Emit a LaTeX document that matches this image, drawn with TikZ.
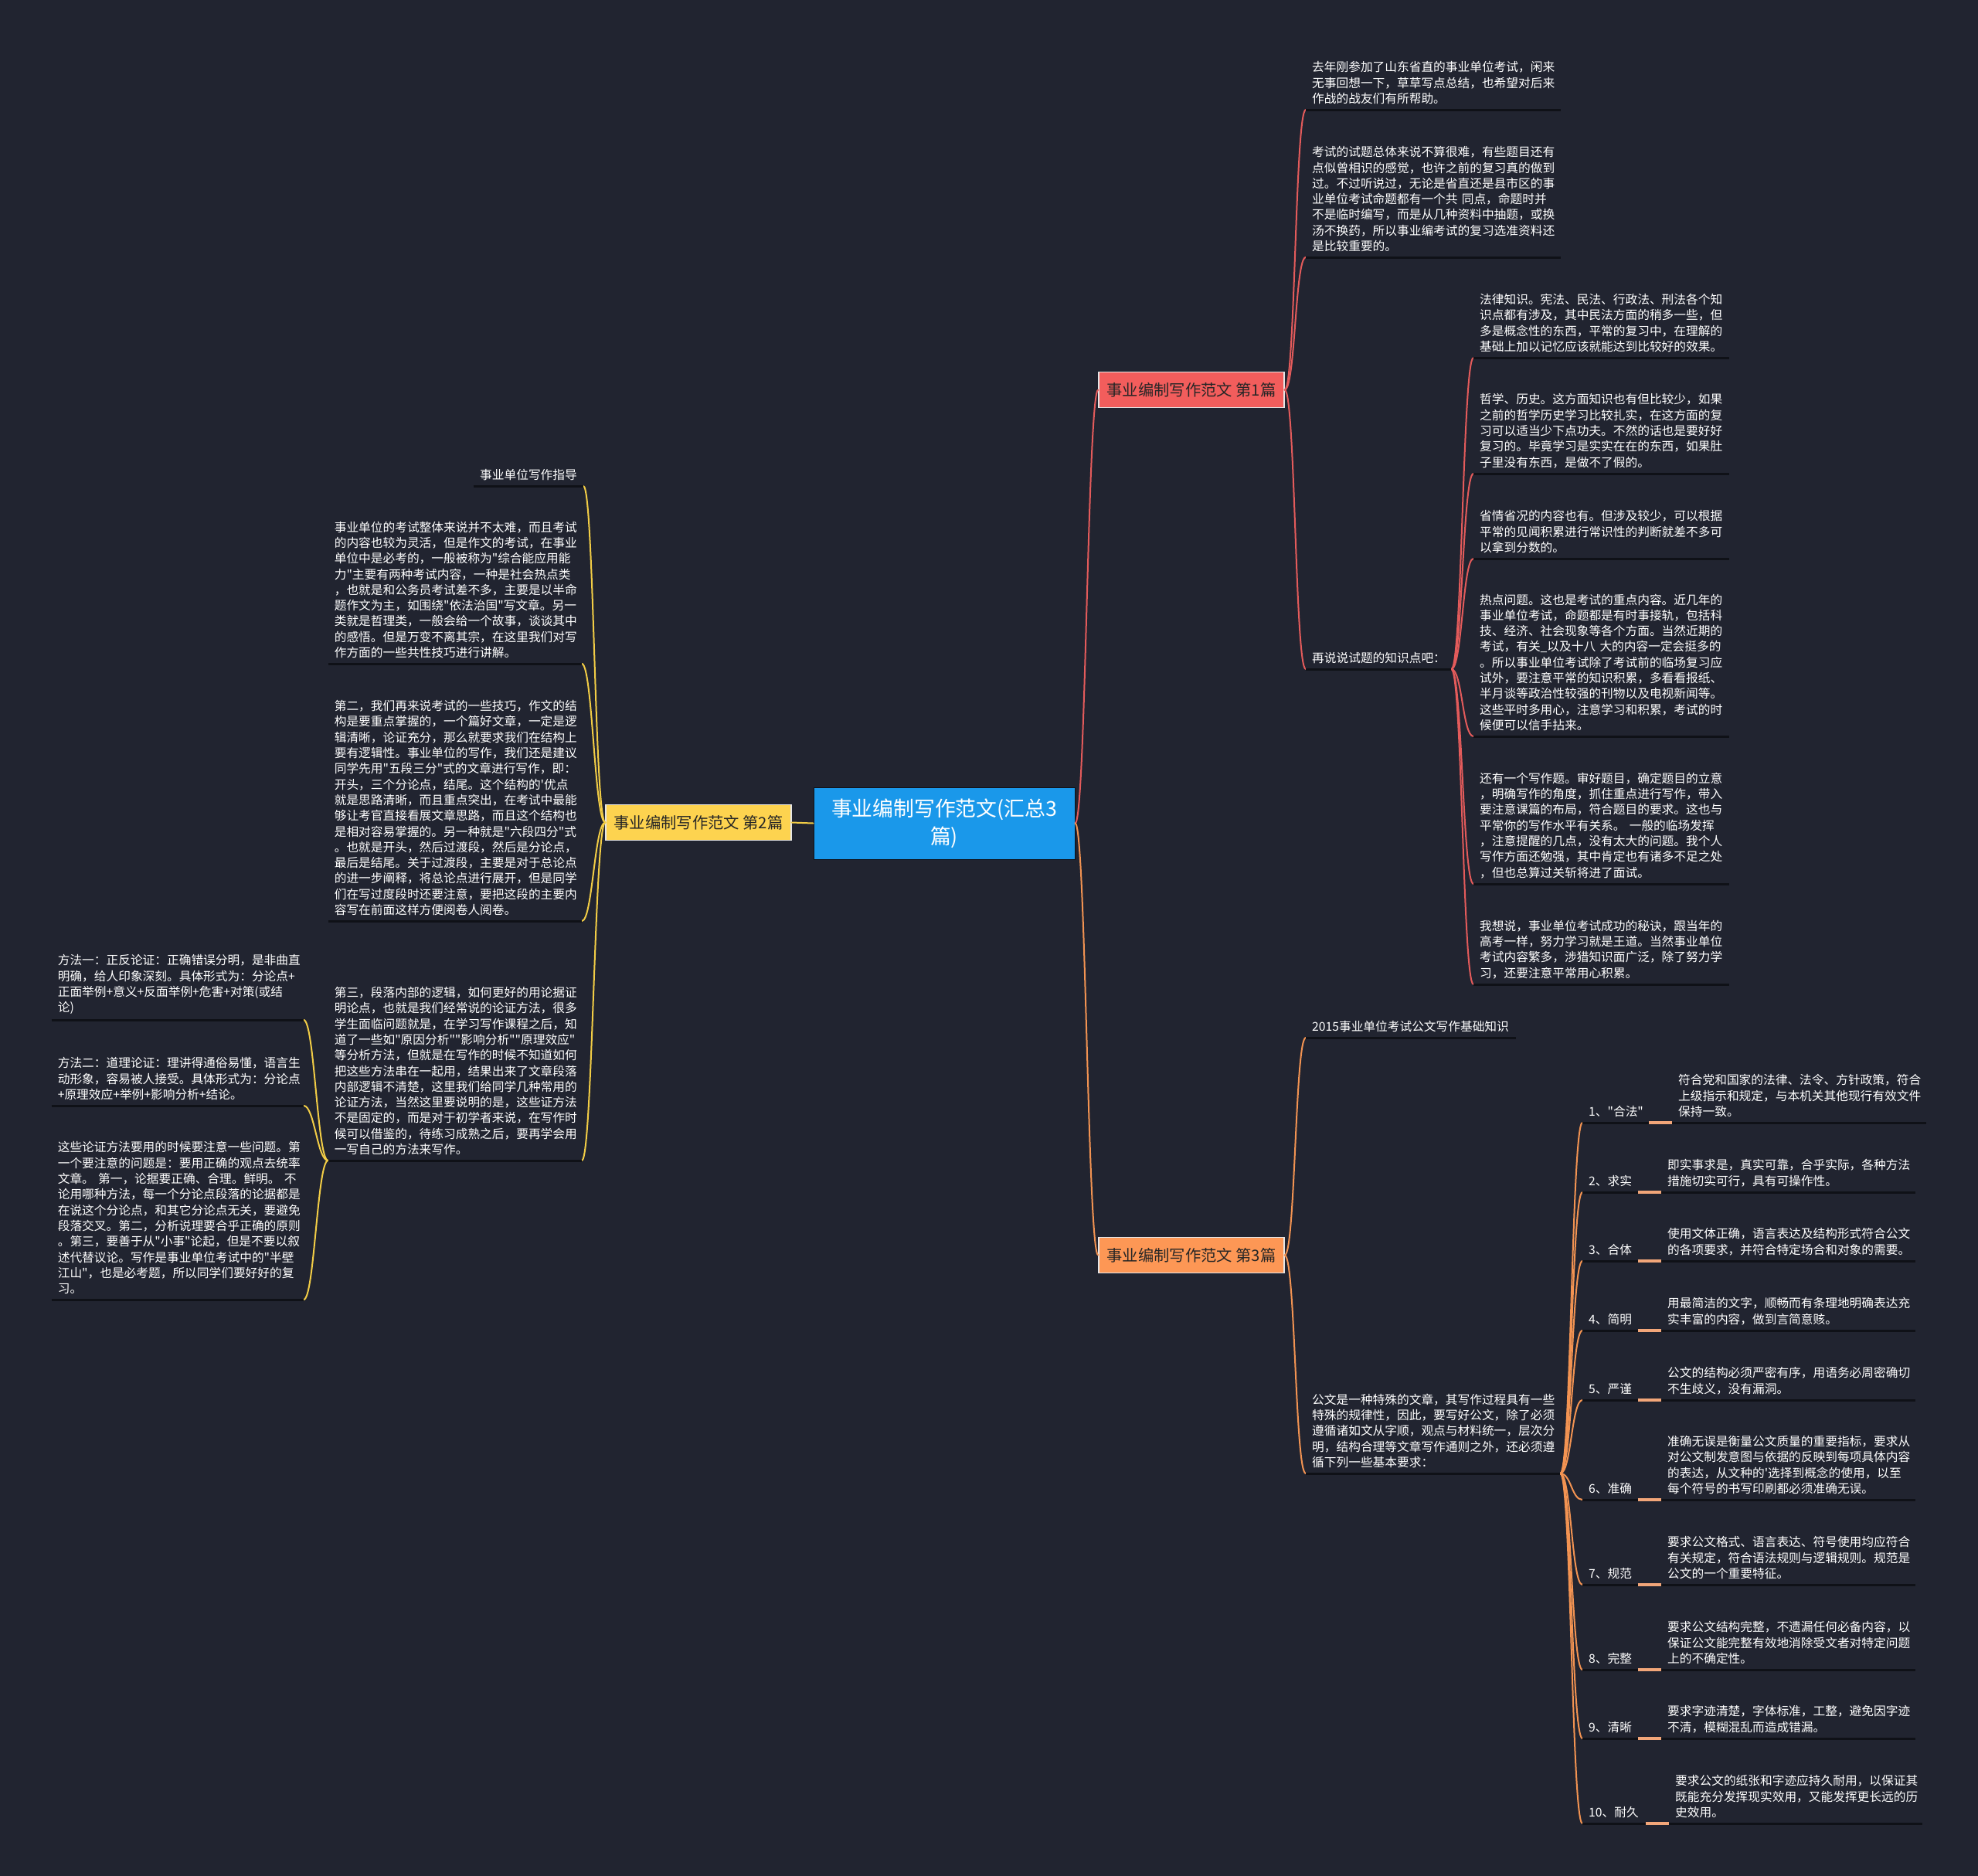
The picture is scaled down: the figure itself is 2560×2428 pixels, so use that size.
\documentclass[tikz,border=0pt]{standalone}
\usepackage{fontspec}
\newfontfamily\cjk{Noto Sans CJK SC}
\usetikzlibrary{calc}
\definecolor{bg}{HTML}{212430}
\definecolor{cblue}{HTML}{1A98EA}
\definecolor{cred}{HTML}{F25D5C}
\definecolor{cyel}{HTML}{FDD34F}
\definecolor{corg}{HTML}{FD9755}
\definecolor{lred}{HTML}{E35B5B}
\definecolor{lyel}{HTML}{F2CD46}
\definecolor{lorg}{HTML}{F29352}
\definecolor{peach}{HTML}{F2A679}
\definecolor{ulcol}{HTML}{0F1117}
\definecolor{darktext}{HTML}{262626}
\tikzset{
  leaf/.style={inner xsep=8pt, inner ysep=7pt, align=left, text=white,
    font=\cjk\fontsize{15.7}{20.3}\selectfont, text width=#1},
  leafsw/.style={leaf=#1, anchor=south west},
  leafse/.style={leaf=#1, anchor=south east},
  topic/.style={minimum width=240pt, minimum height=46pt, inner sep=0pt,
    draw=white!90!black, line width=1.2pt, text=darktext,
    font=\cjk\fontsize{20.3}{24}\selectfont},
  mainbox/.style={minimum width=338pt, minimum height=93pt, inner sep=0pt,
    fill=cblue, draw=ulcol, line width=1pt, text=white, align=center,
    font=\cjk\fontsize{26.8}{36}\selectfont},
  rbranch/.style={to path={.. controls ($(\tikztostart)+(14,0)$) and ($(\tikztotarget)+(-14,0)$) .. (\tikztotarget)}},
  lbranch/.style={to path={.. controls ($(\tikztostart)+(-14,0)$) and ($(\tikztotarget)+(14,0)$) .. (\tikztotarget)}},
  conn/.style={line width=2pt, line cap=round},
  ul/.style={draw=ulcol, line width=3pt},
  seg/.style={draw=peach, line width=3.5pt},
}
\begin{document}
\begin{tikzpicture}[x=1pt,y=-1pt]
\fill[bg] (0,0) rectangle (2560,2428);
\useasboundingbox (0,0) rectangle (2560,2428);

% main topics
\node[mainbox] (main) at (1222,1065.5) {事业编制写作范文(汇总3\\篇)};
\node[topic, fill=cred] (b1) at (1542,504.5) {事业编制写作范文 第1篇};
\node[topic, fill=cyel] (b2) at (904,1064.5) {事业编制写作范文 第2篇};
\node[topic, fill=corg] (b3) at (1542,1624.5) {事业编制写作范文 第3篇};

% ===== branch 1 =====
\node[leafsw=314pt] (r1) at (1690,142) {去年刚参加了山东省直的事业单位考试，闲来\\无事回想一下，草草写点总结，也希望对后来\\作战的战友们有所帮助。};
\node[leafsw=314pt] (r2) at (1690,333) {考试的试题总体来说不算很难，有些题目还有\\点似曾相识的感觉，也许之前的复习真的做到\\过。不过听说过，无论是省直还是县市区的事\\业单位考试命题都有一个共 同点，命题时并\\不是临时编写，而是从几种资料中抽题，或换\\汤不换药，所以事业编考试的复习选准资料还\\是比较重要的。};
\node[leafsw=172pt] (r3) at (1690,866) {再说说试题的知识点吧：};

\node[leafsw=315pt] (k1) at (1907,463) {法律知识。宪法、民法、行政法、刑法各个知\\识点都有涉及，其中民法方面的稍多一些，但\\多是概念性的东西，平常的复习中，在理解的\\基础上加以记忆应该就能达到比较好的效果。};
\node[leafsw=315pt] (k2) at (1907,613) {哲学、历史。这方面知识也有但比较少，如果\\之前的哲学历史学习比较扎实，在这方面的复\\习可以适当少下点功夫。不然的话也是要好好\\复习的。毕竟学习是实实在在的东西，如果肚\\子里没有东西，是做不了假的。};
\node[leafsw=315pt] (k3) at (1907,723) {省情省况的内容也有。但涉及较少，可以根据\\平常的见闻积累进行常识性的判断就差不多可\\以拿到分数的。};
\node[leafsw=315pt] (k4) at (1907,953) {热点问题。这也是考试的重点内容。近几年的\\事业单位考试，命题都是有时事接轨，包括科\\技、经济、社会现象等各个方面。当然近期的\\考试，有关\_以及十八 大的内容一定会挺多的\\。所以事业单位考试除了考试前的临场复习应\\试外，要注意平常的知识积累，多看看报纸、\\半月谈等政治性较强的刊物以及电视新闻等。\\这些平时多用心，注意学习和积累，考试的时\\候便可以信手拈来。};
\node[leafsw=315pt] (k5) at (1907,1144) {还有一个写作题。审好题目，确定题目的立意\\，明确写作的角度，抓住重点进行写作，带入\\要注意课篇的布局，符合题目的要求。这也与\\平常你的写作水平有关系。 一般的临场发挥\\，注意提醒的几点，没有太大的问题。我个人\\写作方面还勉强，其中肯定也有诸多不足之处\\，但也总算过关斩将进了面试。};
\node[leafsw=315pt] (k6) at (1907,1274) {我想说，事业单位考试成功的秘诀，跟当年的\\高考一样，努力学习就是王道。当然事业单位\\考试内容繁多，涉猎知识面广泛，除了努力学\\习，还要注意平常用心积累。};

% ===== branch 3 =====
\node[leafsw=256pt] (o1) at (1690,1343) {2015事业单位考试公文写作基础知识};
\node[leafsw=313pt] (o2) at (1690,1907) {公文是一种特殊的文章，其写作过程具有一些\\特殊的规律性，因此，要写好公文，除了必须\\遵循诸如文从字顺，观点与材料统一，层次分\\明，结构合理等文章写作通则之外，还必须遵\\循下列一些基本要求：};

\node[leafsw=70pt] (q1) at (2048,1453) {1、"合法"};
\node[leafsw=56pt] (q2) at (2048,1543) {2、求实};
\node[leafsw=56pt] (q3) at (2048,1632) {3、合体};
\node[leafsw=56pt] (q4) at (2048,1722) {4、简明};
\node[leafsw=56pt] (q5) at (2048,1812) {5、严谨};
\node[leafsw=56pt] (q6) at (2048,1941) {6、准确};
\node[leafsw=56pt] (q7) at (2048,2051) {7、规范};
\node[leafsw=56pt] (q8) at (2048,2161) {8、完整};
\node[leafsw=56pt] (q9) at (2048,2250) {9、清晰};
\node[leafsw=66pt] (q10) at (2048,2360) {10、耐久};

\node[leafsw=313pt] (d1) at (2164,1453) {符合党和国家的法律、法令、方针政策，符合\\上级指示和规定，与本机关其他现行有效文件\\保持一致。};
\node[leafsw=313pt] (d2) at (2150,1543) {即实事求是，真实可靠，合乎实际，各种方法\\措施切实可行，具有可操作性。};
\node[leafsw=313pt] (d3) at (2150,1632) {使用文体正确，语言表达及结构形式符合公文\\的各项要求，并符合特定场合和对象的需要。};
\node[leafsw=313pt] (d4) at (2150,1722) {用最简洁的文字，顺畅而有条理地明确表达充\\实丰富的内容，做到言简意赅。};
\node[leafsw=313pt] (d5) at (2150,1812) {公文的结构必须严密有序，用语务必周密确切\\不生歧义，没有漏洞。};
\node[leafsw=313pt] (d6) at (2150,1941) {准确无误是衡量公文质量的重要指标，要求从\\对公文制发意图与依据的反映到每项具体内容\\的表达，从文种的'选择到概念的使用，以至\\每个符号的书写印刷都必须准确无误。};
\node[leafsw=313pt] (d7) at (2150,2051) {要求公文格式、语言表达、符号使用均应符合\\有关规定，符合语法规则与逻辑规则。规范是\\公文的一个重要特征。};
\node[leafsw=313pt] (d8) at (2150,2161) {要求公文结构完整，不遗漏任何必备内容，以\\保证公文能完整有效地消除受文者对特定问题\\上的不确定性。};
\node[leafsw=313pt] (d9) at (2150,2250) {要求字迹清楚，字体标准，工整，避免因字迹\\不清，模糊混乱而造成错漏。};
\node[leafsw=312pt] (d10) at (2160,2360) {要求公文的纸张和字迹应持久耐用，以保证其\\既能充分发挥现实效用，又能发挥更长远的历\\史效用。};

% ===== branch 2 =====
\node[leafse=126pt, align=right] (y1) at (755,629) {事业单位写作指导};
\node[leafse=312pt] (y2) at (753,859) {事业单位的考试整体来说并不太难，而且考试\\的内容也较为灵活，但是作文的考试，在事业\\单位中是必考的，一般被称为"综合能应用能\\力"主要有两种考试内容，一种是社会热点类\\，也就是和公务员考试差不多，主要是以半命\\题作文为主，如围绕"依法治国"写文章。另一\\类就是哲理类，一般会给一个故事，谈谈其中\\的感悟。但是万变不离其宗，在这里我们对写\\作方面的一些共性技巧进行讲解。};
\node[leafse=312pt] (y3) at (753,1192) {第二，我们再来说考试的一些技巧，作文的结\\构是要重点掌握的，一个篇好文章，一定是逻\\辑清晰，论证充分，那么就要求我们在结构上\\要有逻辑性。事业单位的写作，我们还是建议\\同学先用"五段三分"式的文章进行写作，即：\\开头，三个分论点，结尾。这个结构的'优点\\就是思路清晰，而且重点突出，在考试中最能\\够让考官直接看展文章思路，而且这个结构也\\是相对容易掌握的。另一种就是"六段四分"式\\。也就是开头，然后过渡段，然后是分论点，\\最后是结尾。关于过渡段，主要是对于总论点\\的进一步阐释，将总论点进行展开，但是同学\\们在写过度段时还要注意，要把这段的主要内\\容写在前面这样方便阅卷人阅卷。};
\node[leafse=312pt] (y4) at (753,1502) {第三，段落内部的逻辑，如何更好的用论据证\\明论点，也就是我们经常说的论证方法，很多\\学生面临问题就是，在学习写作课程之后，知\\道了一些如"原因分析""影响分析""原理效应"\\等分析方法，但就是在写作的时候不知道如何\\把这些方法串在一起用，结果出来了文章段落\\内部逻辑不清楚，这里我们给同学几种常用的\\论证方法，当然这里要说明的是，这些证方法\\不是固定的，而是对于初学者来说，在写作时\\候可以借鉴的，待练习成熟之后，要再学会用\\一写自己的方法来写作。};

\node[leafse=310pt] (f1) at (393,1320) {方法一：正反论证：正确错误分明，是非曲直\\明确，给人印象深刻。具体形式为：分论点+\\正面举例+意义+反面举例+危害+对策(或结\\论)};
\node[leafse=310pt] (f2) at (393,1431) {方法二：道理论证：理讲得通俗易懂，语言生\\动形象，容易被人接受。具体形式为：分论点\\+原理效应+举例+影响分析+结论。};
\node[leafse=310pt] (f3) at (393,1682) {这些论证方法要用的时候要注意一些问题。第\\一个要注意的问题是：要用正确的观点去统率\\文章。 第一，论据要正确、合理。鲜明。 不\\论用哪种方法，每一个分论点段落的论据都是\\在说这个分论点，和其它分论点无关，要避免\\段落交叉。第二，分析说理要合乎正确的原则\\。第三，要善于从"小事"论起，但是不要以叙\\述代替议论。写作是事业单位考试中的"半壁\\江山"，也是必考题，所以同学们要好好的复\\习。};

% ===== connectors =====
\draw[conn, lyel] (main.west) -- (b2.east);
\draw[conn, lred] (main.east) to[rbranch] (b1.west);
\draw[conn, lorg] (main.east) to[rbranch] (b3.west);

\foreach \t in {r1,r2,r3}
  \draw[conn, lred] (b1.east) to[rbranch] (\t.south west);
\foreach \t in {k1,k2,k3,k4,k5,k6}
  \draw[conn, lred] (r3.south east) to[rbranch] (\t.south west);

\foreach \t in {o1,o2}
  \draw[conn, lorg] (b3.east) to[rbranch] (\t.south west);
\foreach \t in {q1,q2,q3,q4,q5,q6,q7,q8,q9,q10}
  \draw[conn, lorg] (o2.south east) to[rbranch] (\t.south west);

\foreach \t in {y1,y2,y3,y4}
  \draw[conn, lyel] (b2.west) to[lbranch] (\t.south east);
\foreach \t in {f1,f2,f3}
  \draw[conn, lyel] (y4.south west) to[lbranch] (\t.south east);

% ===== underlines =====
\foreach \n in {r1,r2,r3,k1,k2,k3,k4,k5,k6,o1,o2,q1,q2,q3,q4,q5,q6,q7,q8,q9,q10,d1,d2,d3,d4,d5,d6,d7,d8,d9,d10,y1,y2,y3,y4,f1,f2,f3}
  \draw[ul] (\n.south west) -- (\n.south east);

% label-to-description links
\foreach \i in {1,...,10}
  \draw[seg] (q\i.south east) -- (d\i.south west);
\end{tikzpicture}
\end{document}
